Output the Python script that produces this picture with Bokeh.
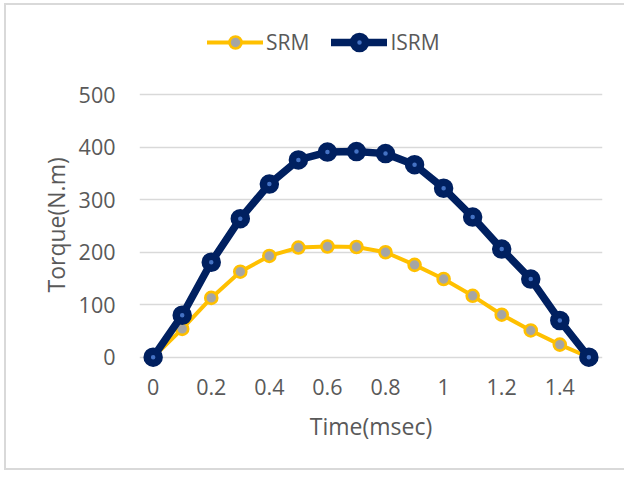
from bokeh.plotting import figure
from bokeh.models import Range1d, FixedTicker, Legend, LegendItem, Title
from bokeh.embed import file_html
from bokeh.resources import INLINE

# Torque over time for the two machine types
time_ms = [0.0, 0.1, 0.2, 0.3, 0.4, 0.5, 0.6, 0.7, 0.8, 0.9, 1.0, 1.1, 1.2, 1.3, 1.4, 1.5]
srm_torque = [0, 54, 113, 163, 193, 209, 211, 210, 200, 176, 149, 117, 81, 51, 24, 0]
isrm_torque = [0, 80, 181, 264, 330, 376, 391, 392, 388, 367, 322, 267, 206, 149, 70, 0]

x_ticks = [0.0, 0.2, 0.4, 0.6, 0.8, 1.0, 1.2, 1.4]
x_tick_labels = ["0", "0.2", "0.4", "0.6", "0.8", "1", "1.2", "1.4"]
y_ticks = [0, 100, 200, 300, 400, 500]

FONT = "Open Sans"
TEXT = "#595959"
GRID = "#d9d9d9"
BORDER = "2px solid #d9d9d9"

# the frame reaches up to hold the legend; gridlines stop at 500
p = figure(
    width=620, height=467,
    output_backend="svg", toolbar_location=None,
    x_range=Range1d(-0.047, 1.547), y_range=Range1d(-19.6, 641.7),
    min_border_left=133, min_border_right=24,
    min_border_top=15, min_border_bottom=105,
    styles={"border-left": BORDER, "border-top": BORDER, "border-bottom": BORDER,
            "margin-left": "4px", "margin-top": "3px"},
)
p.outline_line_color = None
p.background_fill_color = "white"
p.border_fill_color = "white"

# axes
p.xaxis.ticker = FixedTicker(ticks=x_ticks)
p.xaxis.major_label_overrides = {t: s for t, s in zip(x_ticks, x_tick_labels)}
p.yaxis.ticker = FixedTicker(ticks=y_ticks)
for ax in (p.xaxis[0], p.yaxis[0]):
    ax.axis_line_color = None
    ax.major_tick_line_color = None
    ax.minor_tick_line_color = None
    ax.major_tick_out = 0
    ax.major_tick_in = 0
    ax.major_label_text_font = FONT
    ax.major_label_text_font_size = "21.5px"
    ax.major_label_text_color = TEXT
    ax.axis_label_text_font = FONT
    ax.axis_label_text_font_size = "23px"
    ax.axis_label_text_font_style = "normal"
    ax.axis_label_text_color = TEXT

p.xaxis.axis_label = "Time(msec)"
p.xaxis.major_label_standoff = 11
p.xaxis.axis_label_standoff = 12
p.yaxis.major_label_standoff = 24

# value-axis title, centred on the 0..500 band rather than on the whole frame
p.add_layout(Title(text="Torque(N.m)", align="left", offset=75, standoff=8,
                   text_font=FONT, text_font_size="23px", text_font_style="normal",
                   text_color=TEXT), "left")

p.xgrid.grid_line_color = None
p.ygrid.grid_line_color = GRID
p.ygrid.grid_line_width = 1.6

# SRM series
srm_line = p.line(time_ms, srm_torque, line_color="#FFC000", line_width=4,
                  line_join="round", line_cap="round")
srm_pts = p.scatter(time_ms, srm_torque, marker="circle", size=12,
                    fill_color="#A5A5A5", line_color="#FFC000", line_width=2.6)

# ISRM series
isrm_line = p.line(time_ms, isrm_torque, line_color="#002060", line_width=7.5,
                   line_join="round", line_cap="round")
isrm_pts = p.scatter(time_ms, isrm_torque, marker="circle", size=12,
                     fill_color="#4472C4", line_color="#002060", line_width=7.5)

legend = Legend(
    items=[
        LegendItem(label="SRM", renderers=[srm_line, srm_pts]),
        LegendItem(label="ISRM", renderers=[isrm_line, isrm_pts]),
    ],
    orientation="horizontal",
    location=(68, 310),
    glyph_width=56, glyph_height=30,
    label_standoff=3, spacing=22,
    padding=0, margin=0,
    border_line_color=None, background_fill_alpha=0,
    label_text_font=FONT, label_text_font_size="21px", label_text_color=TEXT,
)
p.add_layout(legend, "center")

open("out.html", "w").write(file_html(p, INLINE))
